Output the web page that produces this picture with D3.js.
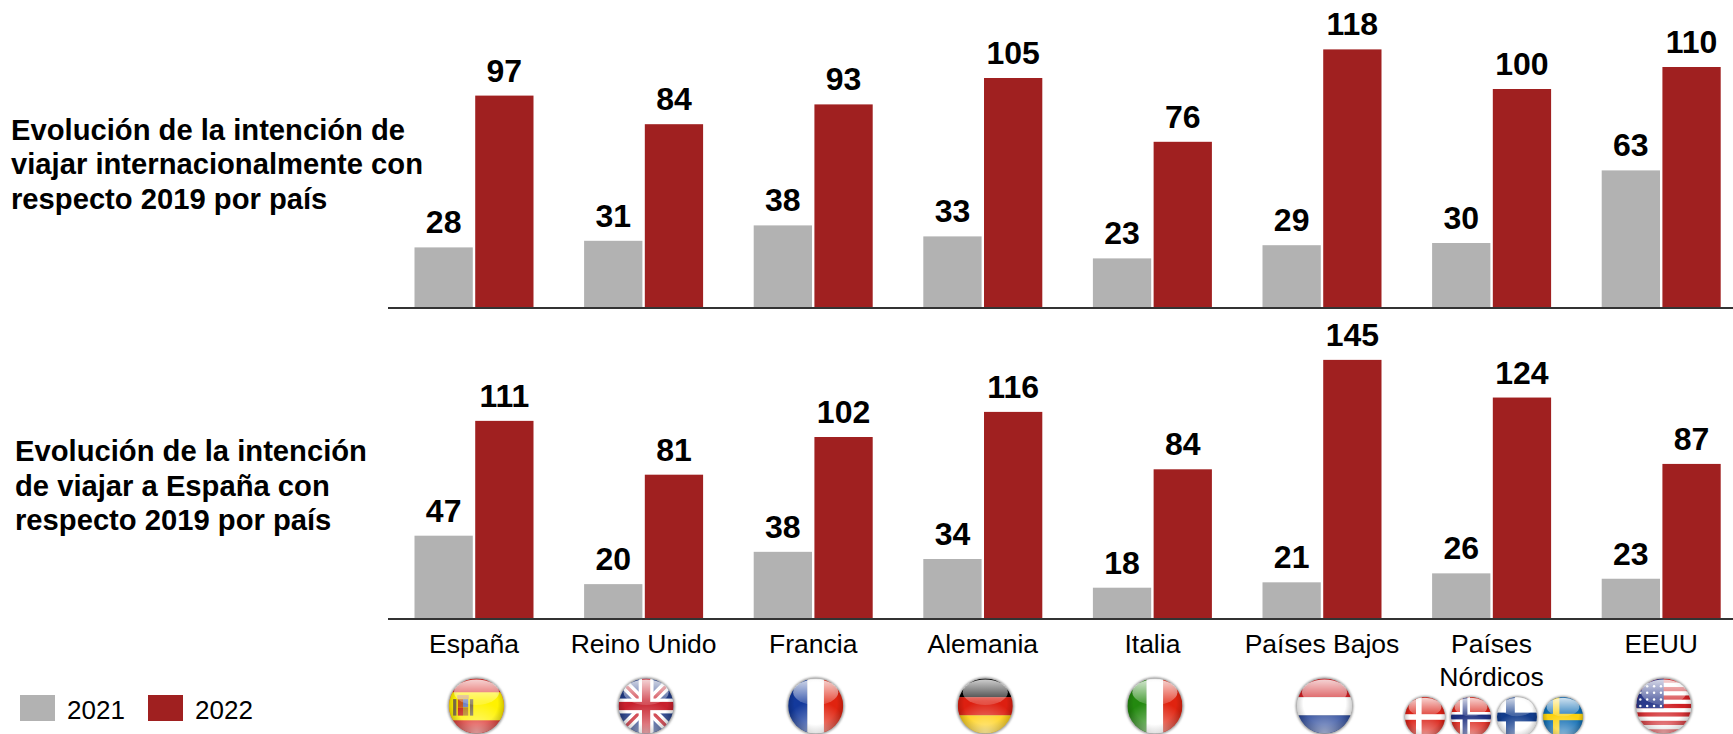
<!DOCTYPE html>
<html>
<head>
<meta charset="utf-8">
<script src="https://cdn.jsdelivr.net/npm/d3@7"></script>
<style>
  html, body { margin: 0; padding: 0; background: #fff; overflow: hidden; }
  text { font-family: "Liberation Sans", Arial, sans-serif; fill: #000; }
</style>
</head>
<body>
<svg id="chart" width="1733" height="734"></svg>
<script>
var width = 1733, height = 734;

var countries = ["España", "Reino Unido", "Francia", "Alemania", "Italia", "Países Bajos", "Países Nórdicos", "EEUU"];
var years = ["2021", "2022"];
var viajar_2021 = [28, 31, 38, 33, 23, 29, 30, 63];
var viajar_2022 = [97, 84, 93, 105, 76, 118, 100, 110];
var espana_2021 = [47, 20, 38, 34, 18, 21, 26, 23];
var espana_2022 = [111, 81, 102, 116, 84, 145, 124, 87];
var title_top = ["Evolución de la intención de", "viajar internacionalmente con", "respecto 2019 por país"];
var title_bottom = ["Evolución de la intención", "de viajar a España con", "respecto 2019 por país"];
var colors = {"2021": "#b2b2b2", "2022": "#a02020"};

var svg = d3.select("#chart");
var defs = svg.append("defs");

var x0 = d3.scaleBand().domain(countries).range([389.2, 1746]);
var x1 = d3.scaleBand().domain(years).range([-59.5, 59.5]).paddingInner(0.04);

function panel(values_a, values_b, line_y, zero_y, px_per_unit) {
    var y = d3.scaleLinear().domain([0, 150]).range([zero_y, zero_y - 150 * px_per_unit]);
    var g = svg.append("g");
    [values_a, values_b].forEach(function(values, s) {
        var year = years[s];
        g.selectAll(".bar" + year)
            .data(values)
            .enter().append("rect")
                .attr("x", (d, i) => x0(countries[i]) + x0.bandwidth() / 2 + x1(year))
                .attr("y", d => y(d))
                .attr("width", x1.bandwidth())
                .attr("height", d => line_y - y(d))
                .attr("fill", colors[year]);
        g.selectAll(".label" + year)
            .data(values)
            .enter().append("text")
                .attr("x", (d, i) => x0(countries[i]) + x0.bandwidth() / 2 + x1(year) + x1.bandwidth() / 2)
                .attr("y", d => y(d) - 14)
                .attr("text-anchor", "middle")
                .attr("font-weight", "bold")
                .attr("font-size", 32)
                .text(d => d);
    });
    g.append("line")
        .attr("x1", 388).attr("x2", width)
        .attr("y1", line_y).attr("y2", line_y)
        .attr("stroke", "#333").attr("stroke-width", 2);
}

panel(viajar_2021, viajar_2022, 308, 309, 2.2);
panel(espana_2021, espana_2022, 619, 620, 1.794);

function title(lines, x, y_first, step) {
    svg.append("g").selectAll("text")
        .data(lines)
        .enter().append("text")
            .attr("x", x)
            .attr("y", (d, i) => y_first + i * step)
            .attr("font-weight", "bold")
            .attr("font-size", 29.2)
            .text(d => d);
}
title(title_top, 11, 140, 34.4);
title(title_bottom, 15, 461, 34.5);

// country names under the bars
var names = svg.append("g").selectAll("text")
    .data(countries)
    .enter().append("text")
        .attr("x", d => x0(d) + x0.bandwidth() / 2)
        .attr("y", 653)
        .attr("text-anchor", "middle")
        .attr("font-size", 26.5);
names.each(function(d) {
    var t = d3.select(this);
    if (d == "Países Nórdicos") {
        t.append("tspan").attr("x", t.attr("x")).text("Países");
        t.append("tspan").attr("x", t.attr("x")).attr("dy", 33).text("Nórdicos");
    } else {
        t.text(d);
    }
});

// legend
var legend = svg.append("g").selectAll("g")
    .data(years)
    .enter().append("g")
        .attr("transform", (d, i) => "translate(" + (20 + i * 128) + ",695)");
legend.append("rect").attr("width", 35).attr("height", 26).attr("fill", d => colors[d]);
legend.append("text").attr("x", 47).attr("y", 24).attr("font-size", 26).text(d => d);

// glossy round flags, each drawn in a unit box of -1..1
var gloss = defs.append("linearGradient").attr("id", "gloss").attr("x1", 0).attr("y1", 0).attr("x2", 0).attr("y2", 1);
gloss.append("stop").attr("offset", 0).attr("stop-color", "#fff").attr("stop-opacity", 0.8);
gloss.append("stop").attr("offset", 1).attr("stop-color", "#fff").attr("stop-opacity", 0.15);
var shade = defs.append("radialGradient").attr("id", "shade").attr("cx", 0.5).attr("cy", 0.45).attr("r", 0.55);
shade.append("stop").attr("offset", 0.7).attr("stop-color", "#000").attr("stop-opacity", 0);
shade.append("stop").attr("offset", 1).attr("stop-color", "#000").attr("stop-opacity", 0.25);
var glow = defs.append("radialGradient").attr("id", "glow").attr("cx", 0.5).attr("cy", 1).attr("r", 0.6);
glow.append("stop").attr("offset", 0).attr("stop-color", "#fff").attr("stop-opacity", 0.55);
glow.append("stop").attr("offset", 1).attr("stop-color", "#fff").attr("stop-opacity", 0);
defs.append("clipPath").attr("id", "disc").append("circle").attr("r", 1);
defs.append("filter").attr("id", "halo")
    .attr("x", "-20%").attr("y", "-20%").attr("width", "140%").attr("height", "140%")
    .append("feGaussianBlur").attr("stdDeviation", 0.04);

function box(f, x, y, w, h, c) {
    f.append("rect").attr("x", x).attr("y", y).attr("width", w).attr("height", h).attr("fill", c);
}
var flag_draw = {
    spain: function(f) {
        box(f, -1, -1, 2, 2, "#d8201c");
        box(f, -1, -0.5, 2, 1.02, "#fff200");
        // pillars and shield
        box(f, -0.85, -0.25, 0.12, 0.6, "#7a6a45");
        box(f, -0.24, -0.25, 0.12, 0.6, "#7a6a45");
        box(f, -0.7, -0.4, 0.42, 0.14, "#d9a860");
        box(f, -0.68, -0.25, 0.19, 0.3, "#c4561d");
        box(f, -0.49, -0.25, 0.19, 0.3, "#6f7fc0");
        box(f, -0.68, 0.05, 0.19, 0.3, "#c4261d");
        box(f, -0.49, 0.05, 0.19, 0.3, "#b5821b");
    },
    uk: function(f) {
        box(f, -1, -1, 2, 2, "#1f3a86");
        f.append("path").attr("d", "M-1,-1L1,1M1,-1L-1,1").attr("stroke", "#fff").attr("stroke-width", 0.36);
        f.append("path").attr("d", "M-1,-1L1,1M1,-1L-1,1").attr("stroke", "#c8202c").attr("stroke-width", 0.12);
        box(f, -1, -0.27, 2, 0.54, "#fff");
        box(f, -0.27, -1, 0.54, 2, "#fff");
        box(f, -1, -0.15, 2, 0.3, "#c8202c");
        box(f, -0.15, -1, 0.3, 2, "#c8202c");
    },
    france: function(f) {
        box(f, -1, -1, 0.7, 2, "#13399c");
        box(f, -0.3, -1, 0.6, 2, "#fff");
        box(f, 0.3, -1, 0.7, 2, "#e0230f");
    },
    germany: function(f) {
        box(f, -1, -1, 2, 0.68, "#000");
        box(f, -1, -0.32, 2, 0.66, "#dd1f10");
        box(f, -1, 0.34, 2, 0.66, "#ffcc00");
    },
    italy: function(f) {
        box(f, -1, -1, 0.7, 2, "#23890f");
        box(f, -0.3, -1, 0.6, 2, "#fff");
        box(f, 0.3, -1, 0.7, 2, "#e0230f");
    },
    netherlands: function(f) {
        box(f, -1, -1, 2, 0.68, "#cf1f23");
        box(f, -1, -0.32, 2, 0.66, "#fff");
        box(f, -1, 0.34, 2, 0.66, "#1f3f96");
    },
    denmark: function(f) {
        box(f, -1, -1, 2, 2, "#da2116");
        box(f, -1, -0.14, 2, 0.28, "#fff");
        box(f, -0.45, -1, 0.28, 2, "#fff");
    },
    norway: function(f) {
        box(f, -1, -1, 2, 2, "#da2116");
        box(f, -1, -0.25, 2, 0.5, "#fff");
        box(f, -0.55, -1, 0.5, 2, "#fff");
        box(f, -1, -0.12, 2, 0.24, "#1d2f80");
        box(f, -0.42, -1, 0.24, 2, "#1d2f80");
    },
    finland: function(f) {
        box(f, -1, -1, 2, 2, "#fff");
        box(f, -1, -0.22, 2, 0.44, "#123c8c");
        box(f, -0.55, -1, 0.44, 2, "#123c8c");
    },
    sweden: function(f) {
        box(f, -1, -1, 2, 2, "#0f6db4");
        box(f, -1, -0.16, 2, 0.32, "#fcd20f");
        box(f, -0.5, -1, 0.32, 2, "#fcd20f");
    },
    usa: function(f) {
        box(f, -1, -1, 2, 2, "#fff");
        d3.range(0, 7).forEach(function(i) {
            box(f, -1, -1 + i * 2 / 6.5, 2, 1 / 6.5, "#cf1f23");
        });
        box(f, -1, -1, 1, 1.08, "#2b3a8c");
        d3.range(0, 4).forEach(function(r) {
            d3.range(0, 4).forEach(function(c) {
                f.append("circle").attr("cx", -0.85 + c * 0.25).attr("cy", -0.72 + r * 0.24).attr("r", 0.045).attr("fill", "#fff");
            });
        });
    }
};

function flag(name, cx, cy, r) {
    var f = svg.append("g")
        .attr("transform", "translate(" + cx + "," + cy + ") scale(" + r + ")");
    f.append("circle").attr("r", 1.05).attr("fill", "#999").attr("filter", "url(#halo)");
    var inner = f.append("g").attr("clip-path", "url(#disc)");
    flag_draw[name](inner);
    inner.append("circle").attr("r", 1).attr("fill", "url(#shade)");
    inner.append("circle").attr("r", 1).attr("fill", "url(#glow)");
    f.append("ellipse").attr("cy", -0.5).attr("rx", 0.82).attr("ry", 0.46).attr("fill", "url(#gloss)");
}

var centre = d => x0(d) + x0.bandwidth() / 2;
var single_flags = [["España", "spain"], ["Reino Unido", "uk"], ["Francia", "france"], ["Alemania", "germany"], ["Italia", "italy"], ["Países Bajos", "netherlands"], ["EEUU", "usa"]];
single_flags.forEach(function(p) { flag(p[1], centre(p[0]) + 2.5, 706, 27.5); });
["denmark", "norway", "finland", "sweden"].forEach(function(n, i) {
    flag(n, centre("Países Nórdicos") + 2.4 + (i - 1.5) * 46, 717, 20);
});
</script>
</body>
</html>
